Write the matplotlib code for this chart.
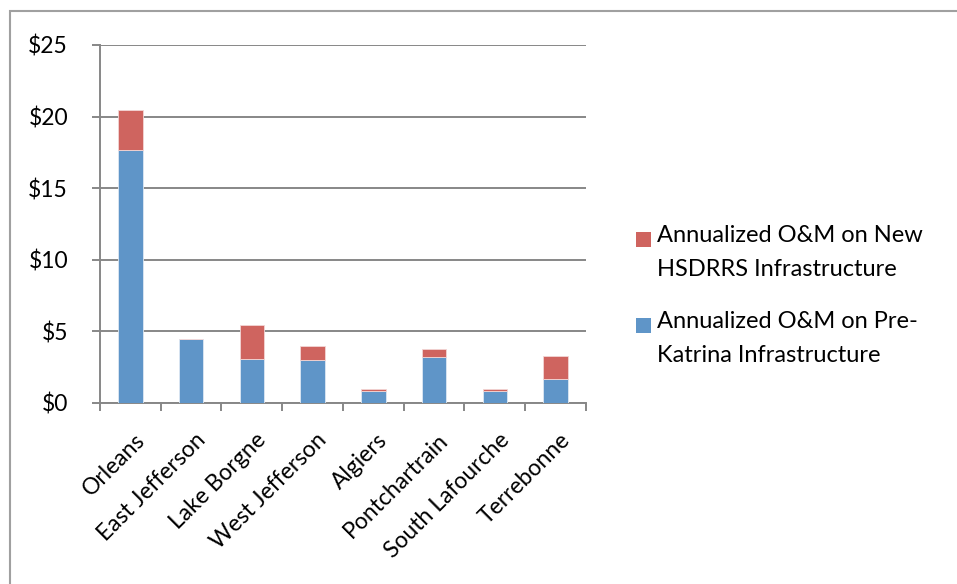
import numpy as np
import matplotlib
matplotlib.use("Agg")
import matplotlib.pyplot as plt
from matplotlib.patches import Rectangle

plt.rcParams['font.family'] = ['Lato', 'DejaVu Sans']

# data ($ millions)
basins = ["Orleans", "East Jefferson", "Lake Borgne", "West Jefferson",
          "Algiers", "Pontchartrain", "South Lafourche", "Terrebonne"]
pre_katrina = [17.7, 4.45, 3.05, 2.98, 0.86, 3.19, 0.87, 1.65]
new_hsdrrs = [2.75, 0.05, 2.38, 1.0, 0.1, 0.58, 0.11, 1.65]
yticks = [0, 5, 10, 15, 20, 25]
ytick_labels = ["$0", "$5", "$10", "$15", "$20", "$25"]
legend_labels = ["Annualized O&M on New\nHSDRRS Infrastructure",
                 "Annualized O&M on Pre-\nKatrina Infrastructure"]

blue = "#5F95C8"
red = "#CF645F"
grey = "#878787"

W, H = 957, 584
fig = plt.figure(figsize=(W / 100, H / 100), dpi=100)
ax = fig.add_axes([100 / W, (H - 403) / H, 486 / W, 358 / H])

x = np.arange(len(basins))
ax.bar(x, pre_katrina, width=0.4, color=blue, edgecolor="#DDE8F3", linewidth=0.6, zorder=3)
ax.bar(x, new_hsdrrs, width=0.4, bottom=pre_katrina, color=red,
       edgecolor="#F2D6D5", linewidth=0.6, zorder=3)

ax.set_xlim(-0.5, len(basins) - 0.5)
ax.set_ylim(0, 25)
ax.set_yticks(yticks)
ax.set_yticklabels(ytick_labels, fontsize=16.5)
ax.yaxis.grid(True, color=grey, linewidth=1.4)
ax.set_axisbelow(True)
ax.tick_params(axis='y', length=6, width=1.4, color=grey, pad=17)

ax.set_xticks(x + 0.06)
ax.set_xticklabels(basins, fontsize=16.5, rotation=45, ha='right', rotation_mode='anchor')
ax.tick_params(axis='x', which='major', length=0, pad=19)
ax.set_xticks(np.arange(len(basins) + 1) - 0.5, minor=True)
ax.tick_params(axis='x', which='minor', length=6, width=1.4, color=grey)

for s in ["top", "right"]:
    ax.spines[s].set_visible(False)
for s in ["left", "bottom"]:
    ax.spines[s].set_color(grey)
    ax.spines[s].set_linewidth(1.4)

# legend drawn by hand so the swatch sits on the first text line, as in the original
for color, label, y_px in zip([red, blue], legend_labels, [239.5, 325.5]):
    fig.patches.append(Rectangle((636 / W, (H - y_px - 7.5) / H), 15 / W, 15 / H,
                                 transform=fig.transFigure, facecolor=color,
                                 edgecolor="none"))
    fig.text(657 / W, (H - y_px + 14) / H, label, fontsize=17, va='top',
             ha='left', linespacing=1.75)

# outer chart border
fig.patches.append(Rectangle((10 / W, -0.05), 1.1, (H - 10.5) / H + 0.05,
                             transform=fig.transFigure, fill=False,
                             edgecolor="#A0A0A0", linewidth=1.5))

fig.savefig("out.png", dpi=100)
